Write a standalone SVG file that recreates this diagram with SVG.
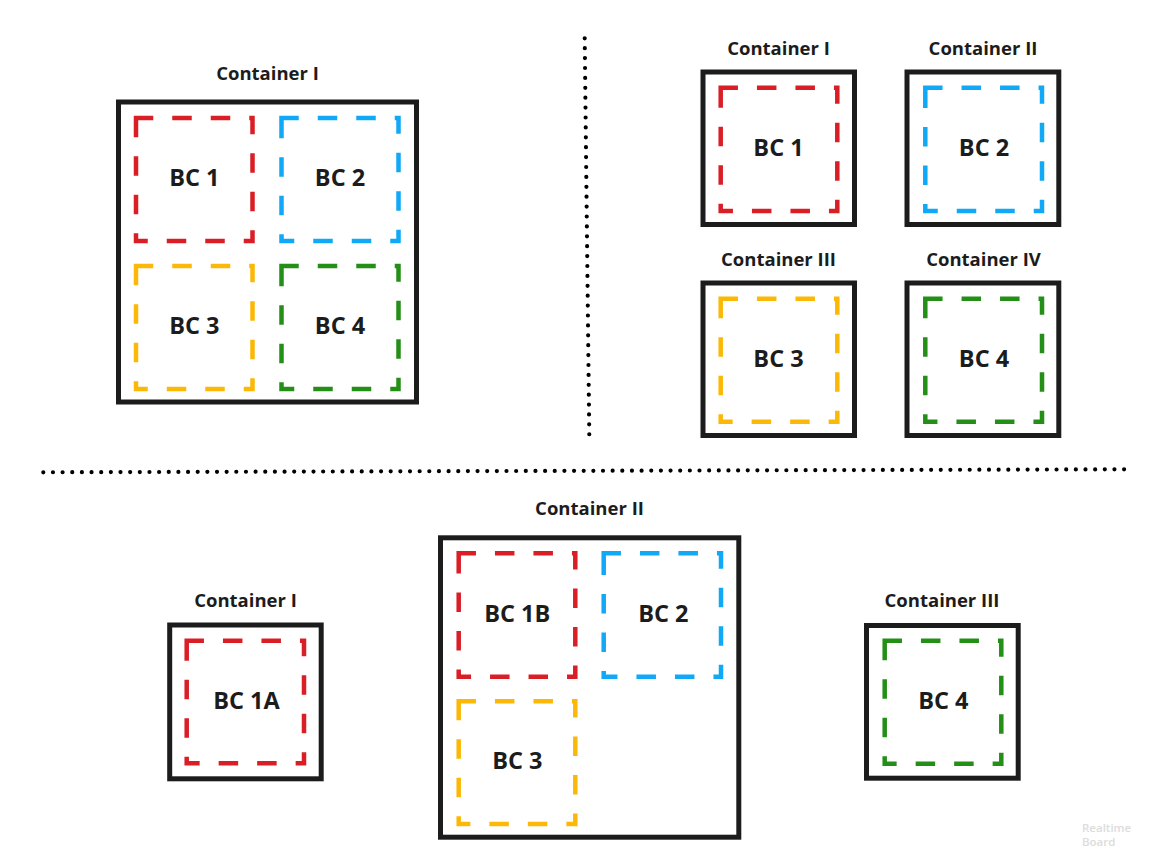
<svg xmlns="http://www.w3.org/2000/svg" width="1154" height="866" viewBox="0 0 1154 866">
<style>
.box{fill:none;stroke:#1c1c1c;stroke-width:5}
.bc{fill:none;stroke-width:4.5;stroke-dasharray:15 23.5;stroke-linecap:square}
.red{stroke:#d91e26}
.blue{stroke:#10a8f7}
.yel{stroke:#fbb806}
.grn{stroke:#248f16}
.t{font-family:"Open Sans","Liberation Sans",sans-serif;font-weight:700;fill:#1c1c1c;text-anchor:middle}
.title{font-size:18.5px}
.lab{font-size:23.5px}
.dots{fill:none;stroke:#000;stroke-width:4.2;stroke-linecap:round}
.wm{font-family:"Open Sans","Liberation Sans",sans-serif;font-weight:600;font-size:11.5px;fill:#dcdcdc}
</style>
<rect width="1154" height="866" fill="#ffffff"/>
<g id="connectors">
<line class="dots" x1="584.7" y1="38.3" x2="589.3" y2="436" stroke-dasharray="0 9.9"/>
<line class="dots" x1="43.3" y1="472.3" x2="1126.3" y2="469.3" stroke-dasharray="0 9.65"/>
</g>
<g id="tl-container">
<text class="t title" x="267.5" y="80">Container I</text>
<rect class="box" x="118.5" y="102" width="298" height="300"/>
</g>
<g id="tl-bc1"><rect class="bc red" x="136" y="118" width="116.5" height="123"/><text class="t lab" x="194.3" y="186">BC 1</text></g>
<g id="tl-bc2"><rect class="bc blue" x="281.5" y="118" width="117" height="123"/><text class="t lab" x="340" y="186">BC 2</text></g>
<g id="tl-bc3"><rect class="bc yel" x="136" y="266" width="116.5" height="123"/><text class="t lab" x="194.3" y="334">BC 3</text></g>
<g id="tl-bc4"><rect class="bc grn" x="281.5" y="266" width="117" height="123"/><text class="t lab" x="340" y="334">BC 4</text></g>

<g id="tr-c1">
<text class="t title" x="778.5" y="55">Container I</text>
<rect class="box" x="703" y="72" width="151.5" height="152.5"/>
<rect class="bc red" x="720.7" y="87.7" width="116.6" height="123.3"/>
<text class="t lab" x="778.5" y="156">BC 1</text>
</g>
<g id="tr-c2">
<text class="t title" x="983" y="55">Container II</text>
<rect class="box" x="907" y="72" width="151.8" height="152.5"/>
<rect class="bc blue" x="925.3" y="87.7" width="116.7" height="123.3"/>
<text class="t lab" x="984" y="156">BC 2</text>
</g>
<g id="tr-c3">
<text class="t title" x="778.5" y="266">Container III</text>
<rect class="box" x="703" y="283" width="151.5" height="152.5"/>
<rect class="bc yel" x="720.7" y="298.7" width="116.6" height="123"/>
<text class="t lab" x="778.5" y="366.7">BC 3</text>
</g>
<g id="tr-c4">
<text class="t title" x="983.5" y="266">Container IV</text>
<rect class="box" x="907" y="283" width="151.8" height="152.5"/>
<rect class="bc grn" x="925.3" y="298.7" width="116.7" height="123"/>
<text class="t lab" x="984" y="366.7">BC 4</text>
</g>

<g id="b-c1">
<text class="t title" x="245.5" y="607.3">Container I</text>
<rect class="box" x="169.7" y="625" width="151.5" height="153.8"/>
<rect class="bc red" x="186.7" y="640.7" width="117.3" height="122.6"/>
<text class="t lab" x="246.5" y="709">BC 1A</text>
</g>
<g id="b-c2">
<text class="t title" x="589.5" y="515">Container II</text>
<rect class="box" x="440.5" y="537.8" width="298.3" height="299.4"/>
</g>
<g id="b-bc1b"><rect class="bc red" x="458.7" y="553.3" width="116.6" height="123.4"/><text class="t lab" x="517.3" y="621.7">BC 1B</text></g>
<g id="b-bc2"><rect class="bc blue" x="603.7" y="553.3" width="117.3" height="123.4"/><text class="t lab" x="663.3" y="621.7">BC 2</text></g>
<g id="b-bc3"><rect class="bc yel" x="458.7" y="701.3" width="116.6" height="122.7"/><text class="t lab" x="517.3" y="769.3">BC 3</text></g>
<g id="b-c3">
<text class="t title" x="942" y="607.3">Container III</text>
<rect class="box" x="866.5" y="625.5" width="151.7" height="152.7"/>
<rect class="bc grn" x="884.7" y="640.7" width="116.6" height="123"/>
<text class="t lab" x="943.3" y="708.7">BC 4</text>
</g>
<g id="watermark">
<text class="wm" x="1082" y="832">Realtime</text>
<text class="wm" x="1082" y="846">Board</text>
</g>
</svg>
